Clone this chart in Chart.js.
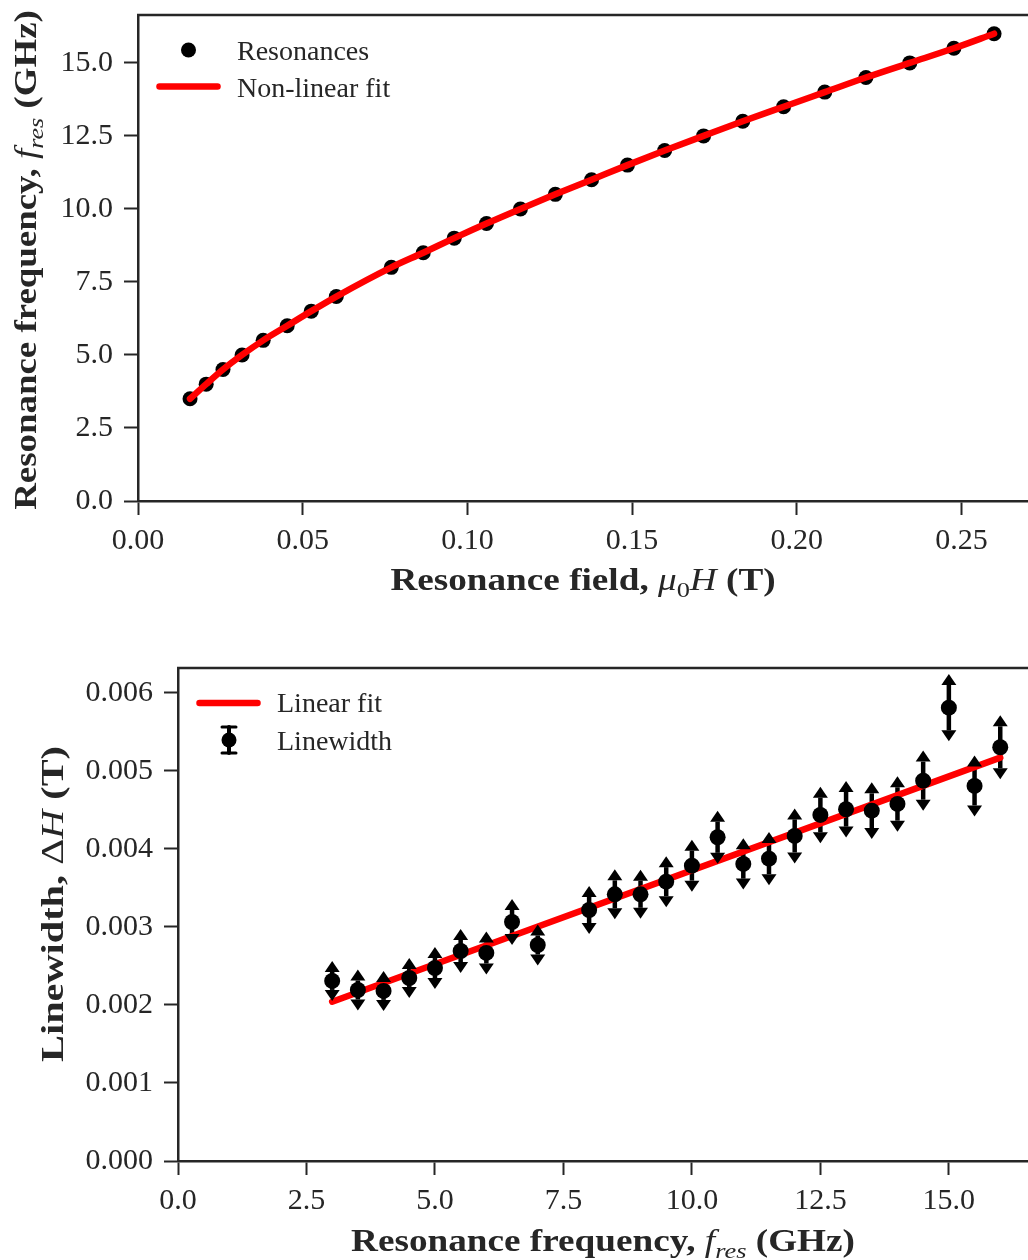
<!DOCTYPE html>
<html>
<head>
<meta charset="utf-8">
<script src="https://cdn.jsdelivr.net/npm/chart.js@4.4.1/dist/chart.umd.min.js"></script>
<style>
  html, body { margin: 0; padding: 0; background: #fff; overflow: hidden; }
  #topChart { position: absolute; left: 0; top: 0; }
  #bottomChart { position: absolute; left: 0; top: 640px; }
</style>
</head>
<body>
<canvas id="topChart" width="1028" height="610"></canvas>
<canvas id="bottomChart" width="1028" height="620"></canvas>
<script>
// Resonance field (T) vs resonance frequency (GHz)
var fieldT = [0.0158, 0.0207, 0.0258, 0.0316, 0.0380, 0.0453, 0.0526, 0.0602, 0.0769, 0.0866,
              0.0960, 0.1058, 0.1161, 0.1267, 0.1377, 0.1486, 0.1599, 0.1717, 0.1836, 0.1960,
              0.2085, 0.2210, 0.2343, 0.2477, 0.2599];
var freqGHz = [3.5, 4.0, 4.5, 5.0, 5.5, 6.0, 6.5, 7.0, 8.0, 8.5,
               9.0, 9.5, 10.0, 10.5, 11.0, 11.5, 12.0, 12.5, 13.0, 13.5,
               14.0, 14.5, 15.0, 15.5, 16.0];
// Kittel fit evaluated at the measured fields
var fitFreqGHz = [3.5, 4.0, 4.5, 5.0, 5.5, 6.0, 6.5, 7.0, 8.0, 8.5,
                  9.0, 9.5, 10.0, 10.5, 11.0, 11.5, 12.0, 12.5, 13.0, 13.5,
                  14.0, 14.5, 15.0, 15.5, 16.0];

// Linewidth (T) vs frequency (GHz)
var lwFreq = [3.0, 3.5, 4.0, 4.5, 5.0, 5.5, 6.0, 6.5, 7.0, 8.0, 8.5, 9.0, 9.5,
              10.0, 10.5, 11.0, 11.5, 12.0, 12.5, 13.0, 13.5, 14.0, 14.5, 15.0, 15.5, 16.0];
var lwValue = [0.002308, 0.002192, 0.002180, 0.002346, 0.002474, 0.002692, 0.002667, 0.003064, 0.002769,
               0.003218, 0.003419, 0.003419, 0.003581, 0.003786, 0.004150, 0.003808, 0.003876,
               0.004167, 0.004436, 0.004509, 0.004491, 0.004577, 0.004876, 0.005812, 0.004808, 0.005304];
var lwError = [0.000115, 0.000122, 0.000115, 0.000115, 0.000128, 0.000141, 0.000135, 0.000154, 0.000122,
               0.000167, 0.000179, 0.000173, 0.000186, 0.000192, 0.000199, 0.000188, 0.000199,
               0.000212, 0.000222, 0.000222, 0.000222, 0.000214, 0.000244, 0.000291, 0.000250, 0.000269];
var linFitFreq = [3.0, 16.0];
var linFitValue = [0.002042, 0.005171];

// Axis ticks
var topXTicks = [0, 0.05, 0.10, 0.15, 0.20, 0.25];
var topYTicks = [0, 2.5, 5.0, 7.5, 10.0, 12.5, 15.0];
var botXTicks = [0, 2.5, 5.0, 7.5, 10.0, 12.5, 15.0];
var botYTicks = [0, 0.001, 0.002, 0.003, 0.004, 0.005, 0.006];

var INK = '#262626';
var SERIF = "'Liberation Serif', 'DejaVu Serif', serif";

function pairs(xs, ys) {
    return xs.map(function(x, i) { return { x: x, y: ys[i] }; });
}

// mixed-style axis titles: [text, kind] with kind b / i / r / subr / subi
function partFont(kind, size) {
    var sub = kind.indexOf('sub') === 0;
    var s = sub ? Math.round(size * 0.7) : size;
    var style = kind === 'b' ? 'bold ' : (kind === 'i' || kind === 'subi') ? 'italic ' : '';
    return style + s + 'px ' + SERIF;
}

function drawRichText(ctx, parts, x, y, size, stretch, vertical) {
    ctx.save();
    ctx.translate(x, y);
    if (vertical) ctx.rotate(-Math.PI / 2);
    ctx.scale(stretch, 1);
    var widths = parts.map(function(p) {
        ctx.font = partFont(p[1], size);
        return ctx.measureText(p[0]).width;
    });
    var total = widths.reduce(function(a, b) { return a + b; }, 0);
    var cx = -total / 2;
    ctx.fillStyle = INK;
    ctx.textAlign = 'left';
    ctx.textBaseline = 'alphabetic';
    parts.forEach(function(p, i) {
        ctx.font = partFont(p[1], size);
        ctx.fillText(p[0], cx, p[1].indexOf('sub') === 0 ? size * 0.22 : 0);
        cx += widths[i];
    });
    ctx.restore();
}

function arrowHead(ctx, x, y, dir) {
    // dir -1 points up, +1 points down; y is the base of the head
    ctx.beginPath();
    ctx.moveTo(x - 7.5, y);
    ctx.lineTo(x + 7.5, y);
    ctx.lineTo(x, y + dir * 11);
    ctx.closePath();
    ctx.fill();
}

var figurePlugin = {
    id: 'figure',
    beforeDatasetsDraw: function(chart) {
        // error bar stems sit under the fit line
        var ctx = chart.ctx;
        var ys = chart.scales.y;
        chart.data.datasets.forEach(function(ds, i) {
            if (!ds.errors) return;
            var meta = chart.getDatasetMeta(i);
            ctx.save();
            ctx.strokeStyle = '#000';
            ctx.lineWidth = 4.5;
            meta.data.forEach(function(el, j) {
                var v = ds.data[j].y, e = ds.errors[j];
                ctx.beginPath();
                ctx.moveTo(el.x, ys.getPixelForValue(v + e));
                ctx.lineTo(el.x, ys.getPixelForValue(v - e));
                ctx.stroke();
            });
            ctx.restore();
        });
    },
    afterDatasetsDraw: function(chart, args, opts) {
        var ctx = chart.ctx;
        var ys = chart.scales.y;
        var area = chart.chartArea;
        // arrow caps on top of everything
        chart.data.datasets.forEach(function(ds, i) {
            if (!ds.errors) return;
            var meta = chart.getDatasetMeta(i);
            ctx.save();
            ctx.fillStyle = '#000';
            meta.data.forEach(function(el, j) {
                var v = ds.data[j].y, e = ds.errors[j];
                arrowHead(ctx, el.x, ys.getPixelForValue(v + e), -1);
                arrowHead(ctx, el.x, ys.getPixelForValue(v - e), 1);
            });
            ctx.restore();
        });

        // top spine
        ctx.save();
        ctx.strokeStyle = INK;
        ctx.lineWidth = 2.5;
        ctx.beginPath();
        ctx.moveTo(area.left - 1, area.top);
        ctx.lineTo(chart.width, area.top);
        ctx.stroke();
        ctx.restore();

        // legend inside the axes
        ctx.save();
        opts.legend.forEach(function(item) {
            var ds = chart.data.datasets[item.dataset];
            if (item.kind === 'dot') {
                ctx.fillStyle = '#000';
                ctx.beginPath();
                ctx.arc(item.sx, item.sy, 7.5, 0, Math.PI * 2);
                ctx.fill();
            } else if (item.kind === 'line') {
                ctx.strokeStyle = ds.borderColor;
                ctx.lineWidth = ds.borderWidth;
                ctx.lineCap = 'round';
                ctx.beginPath();
                ctx.moveTo(item.sx - 29, item.sy);
                ctx.lineTo(item.sx + 29, item.sy);
                ctx.stroke();
            } else if (item.kind === 'errbar') {
                ctx.strokeStyle = '#000';
                ctx.fillStyle = '#000';
                ctx.lineWidth = 4;
                ctx.beginPath();
                ctx.moveTo(item.sx, item.sy - 13);
                ctx.lineTo(item.sx, item.sy + 13);
                ctx.stroke();
                ctx.lineWidth = 3;
                ctx.beginPath();
                ctx.moveTo(item.sx - 7, item.sy - 13);
                ctx.lineTo(item.sx + 7, item.sy - 13);
                ctx.moveTo(item.sx - 7, item.sy + 13);
                ctx.lineTo(item.sx + 7, item.sy + 13);
                ctx.stroke();
                ctx.beginPath();
                ctx.arc(item.sx, item.sy, 7.5, 0, Math.PI * 2);
                ctx.fill();
            }
            ctx.fillStyle = INK;
            ctx.font = '28px ' + SERIF;
            ctx.textAlign = 'left';
            ctx.textBaseline = 'alphabetic';
            ctx.fillText(ds.label, item.tx, item.ty);
        });
        ctx.restore();

        // axis titles
        var t = opts.titles;
        drawRichText(ctx, t.x.parts, (area.left + area.right) / 2, t.x.base, 31, t.x.stretch, false);
        drawRichText(ctx, t.y.parts, t.y.base, t.y.center, 31, t.y.stretch, true);
    }
};

function axisX(min, max, tickList, digits, height) {
    return {
        type: 'linear', min: min, max: max,
        afterBuildTicks: function(s) { s.ticks = tickList.map(function(v) { return { value: v }; }); },
        afterFit: function(s) { s.height = height; s.paddingLeft = 0; s.paddingRight = 0; },
        ticks: { color: INK, font: { family: SERIF, size: 30 }, padding: 8, maxRotation: 0,
                 callback: function(v) { return Number(v).toFixed(digits); } },
        grid: { display: true, drawOnChartArea: false, drawTicks: true, tickLength: 14, tickWidth: 2, tickColor: INK },
        border: { display: true, color: INK, width: 2.5 }
    };
}

function axisY(min, max, tickList, digits, width) {
    return {
        type: 'linear', min: min, max: max,
        afterBuildTicks: function(s) { s.ticks = tickList.map(function(v) { return { value: v }; }); },
        afterFit: function(s) { s.width = width; s.paddingTop = 0; s.paddingBottom = 0; },
        ticks: { color: INK, font: { family: SERIF, size: 30 }, padding: 11,
                 callback: function(v) { return Number(v).toFixed(digits); } },
        grid: { display: true, drawOnChartArea: false, drawTicks: true, tickLength: 14, tickWidth: 2, tickColor: INK },
        border: { display: true, color: INK, width: 2.5 }
    };
}

// Resonance frequency vs field
new Chart(document.getElementById('topChart'), {
    type: 'scatter',
    data: {
        datasets: [{
            label: 'Resonances',
            data: pairs(fieldT, freqGHz),
            backgroundColor: '#000',
            borderColor: '#000',
            borderWidth: 0,
            pointRadius: 7.5,
            pointHoverRadius: 7.5,
            order: 1
        }, {
            type: 'line',
            label: 'Non-linear fit',
            data: pairs(fieldT, fitFreqGHz),
            borderColor: '#ff0000',
            borderWidth: 6.5,
            borderCapStyle: 'round',
            borderJoinStyle: 'round',
            cubicInterpolationMode: 'monotone',
            pointRadius: 0,
            fill: false,
            order: 0
        }]
    },
    options: {
        responsive: false,
        animation: false,
        events: [],
        layout: { autoPadding: false, padding: { top: 15, right: 0, left: 0, bottom: 0 } },
        scales: {
            x: axisX(0, 0.2702, topXTicks, 2, 109),
            y: axisY(0, 16.64, topYTicks, 1, 138)
        },
        plugins: {
            legend: { display: false },
            tooltip: { enabled: false },
            figure: {
                legend: [
                    { dataset: 0, kind: 'dot', sx: 188.5, sy: 50, tx: 237, ty: 59.5 },
                    { dataset: 1, kind: 'line', sx: 188.5, sy: 86.5, tx: 237, ty: 96.5 }
                ],
                titles: {
                    x: { base: 590, stretch: 1.2, parts: [['Resonance field, ', 'b'], ['μ', 'i'], ['0', 'subr'], ['H', 'i'], [' (T)', 'b']] },
                    y: { base: 36, center: 260, stretch: 1.19, parts: [['Resonance frequency, ', 'b'], ['f', 'i'], ['res', 'subi'], [' (GHz)', 'b']] }
                }
            }
        }
    },
    plugins: [figurePlugin]
});

// Linewidth vs frequency
new Chart(document.getElementById('bottomChart'), {
    type: 'scatter',
    data: {
        datasets: [{
            type: 'line',
            label: 'Linear fit',
            data: pairs(linFitFreq, linFitValue),
            borderColor: '#ff0000',
            borderWidth: 6.5,
            borderCapStyle: 'round',
            pointRadius: 0,
            fill: false,
            order: 1
        }, {
            label: 'Linewidth',
            data: pairs(lwFreq, lwValue),
            errors: lwError,
            backgroundColor: '#000',
            borderColor: '#000',
            borderWidth: 0,
            pointRadius: 8,
            pointHoverRadius: 8,
            order: 0
        }]
    },
    options: {
        responsive: false,
        animation: false,
        events: [],
        layout: { autoPadding: false, padding: { top: 28, right: 0, left: 0, bottom: 0 } },
        scales: {
            x: axisX(0, 16.54, botXTicks, 1, 99),
            y: axisY(0, 0.00632, botYTicks, 3, 178)
        },
        plugins: {
            legend: { display: false },
            tooltip: { enabled: false },
            figure: {
                legend: [
                    { dataset: 0, kind: 'line', sx: 228.5, sy: 63, tx: 277, ty: 72 },
                    { dataset: 1, kind: 'errbar', sx: 229, sy: 100, tx: 277, ty: 110 }
                ],
                titles: {
                    x: { base: 611, stretch: 1.2, parts: [['Resonance frequency, ', 'b'], ['f', 'i'], ['res', 'subi'], [' (GHz)', 'b']] },
                    y: { base: 63, center: 264, stretch: 1.3, parts: [['Linewidth, ', 'b'], ['Δ', 'r'], ['H', 'i'], [' (T)', 'b']] }
                }
            }
        }
    },
    plugins: [figurePlugin]
});
</script>
</body>
</html>
